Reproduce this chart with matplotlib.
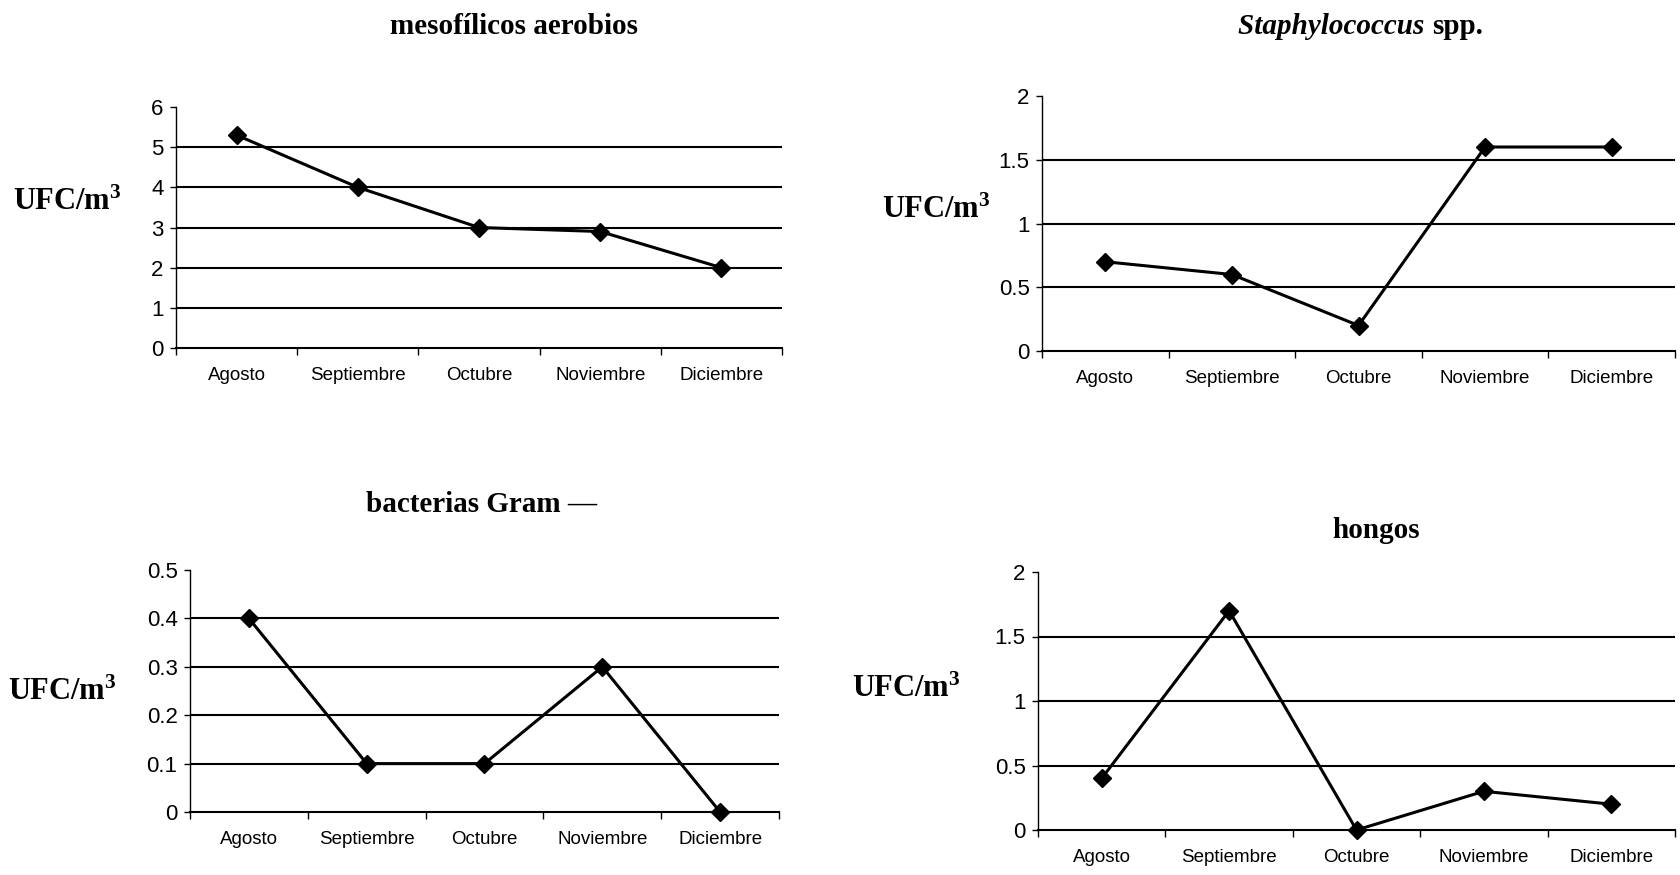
import matplotlib
matplotlib.use("Agg")
import matplotlib.pyplot as plt
from matplotlib.ticker import FixedLocator, FuncFormatter
import numpy as np

months = ["Agosto", "Septiembre", "Octubre", "Noviembre", "Diciembre"]

mesofilicos = [5.3, 4.0, 3.0, 2.9, 2.0]
staphylococcus = [0.7, 0.6, 0.2, 1.6, 1.6]
gram_neg = [0.4, 0.1, 0.1, 0.3, 0.0]
hongos = [0.4, 1.7, 0.0, 0.3, 0.2]

yticks_meso = [0, 1, 2, 3, 4, 5, 6]
yticks_staph = [0, 0.5, 1, 1.5, 2]
yticks_gram = [0, 0.1, 0.2, 0.3, 0.4, 0.5]
yticks_hongos = [0, 0.5, 1, 1.5, 2]

plt.rcParams["mathtext.fontset"] = "custom"
plt.rcParams["mathtext.rm"] = "Liberation Serif:bold"
plt.rcParams["mathtext.bf"] = "Liberation Serif:bold"
plt.rcParams["mathtext.it"] = "Liberation Serif:bold:italic"

W, H = 1680, 875
fig = plt.figure(figsize=(W / 100, H / 100), dpi=100)
fig.patch.set_facecolor("white")

SANS = "Liberation Sans"
SERIF = "Liberation Serif"
TITLE_SIZE = 21


def px_rect(l, r, t, b):
    return [l / W, 1 - b / H, (r - l) / W, (b - t) / H]


def panel(rect, values, yticks, title_xy, title, ylab_xy, italic_title=None):
    ax = fig.add_axes(rect)
    x = np.arange(len(months))
    ax.plot(x, values, color="black", lw=2.2, marker="D", ms=9,
            markerfacecolor="black", markeredgecolor="black", zorder=5,
            clip_on=False)
    ax.set_xlim(-0.5, len(months) - 0.5)
    ax.set_ylim(yticks[0], yticks[-1])
    # y ticks
    ax.yaxis.set_major_locator(FixedLocator(yticks))
    ax.yaxis.set_major_formatter(FuncFormatter(lambda v, p: "%g" % v))
    ax.tick_params(axis="y", direction="out", length=4, width=1, pad=5,
                   labelsize=16, colors="black")
    for lab in ax.get_yticklabels():
        lab.set_fontfamily(SANS)
    # gridlines except top
    for yv in yticks[1:-1]:
        ax.axhline(yv, color="black", lw=1.5, zorder=1)
    # x ticks: marks at boundaries, labels at centers
    ax.xaxis.set_major_locator(FixedLocator(np.arange(-0.5, len(months), 1.0)))
    ax.xaxis.set_major_formatter(FuncFormatter(lambda v, p: ""))
    ax.xaxis.set_minor_locator(FixedLocator(x))
    ax.set_xticklabels(months, minor=True)
    ax.tick_params(axis="x", which="major", direction="out", length=5, width=1)
    ax.tick_params(axis="x", which="minor", length=0, pad=14, labelsize=13.5)
    for lab in ax.get_xticklabels(minor=True):
        lab.set_fontfamily(SANS)
    for s in ["top", "right"]:
        ax.spines[s].set_visible(False)
    ax.spines["left"].set_linewidth(1.0)
    ax.spines["bottom"].set_linewidth(1.5)
    ax.set_facecolor("none")
    # title
    tx, ty = title_xy
    if italic_title is None:
        fig.text(tx / W, 1 - ty / H, title, ha="center", va="center",
                 fontfamily=SERIF, fontweight="bold", fontsize=TITLE_SIZE)
    else:
        it, rest = italic_title
        fig.text(tx / W, 1 - ty / H, it + " ", ha="right", va="center",
                 fontfamily=SERIF, fontweight="bold", fontstyle="italic",
                 fontsize=TITLE_SIZE)
        fig.text(tx / W, 1 - ty / H, rest, ha="left", va="center",
                 fontfamily=SERIF, fontweight="bold", fontsize=TITLE_SIZE)
    lx, ly = ylab_xy
    fig.text(lx / W, 1 - ly / H, r"UFC/m$^{\mathbf{3}}$", ha="center",
             va="center", fontfamily=SERIF, fontweight="bold", fontsize=22)
    return ax


panel(px_rect(176, 782, 107, 348), mesofilicos, yticks_meso, (514, 27),
      "mesofílicos aerobios", (67, 202))
panel(px_rect(1042, 1675, 96, 351), staphylococcus, yticks_staph, (1432, 27),
      None, (936, 210), italic_title=("Staphylococcus", "spp."))
panel(px_rect(190, 779, 570, 812), gram_neg, yticks_gram, (482, 505),
      "bacterias Gram —", (62, 692))
panel(px_rect(1038, 1675, 572, 830), hongos, yticks_hongos, (1376, 530),
      "hongos", (906, 689))

fig.savefig("out.png", dpi=100, facecolor="white")
